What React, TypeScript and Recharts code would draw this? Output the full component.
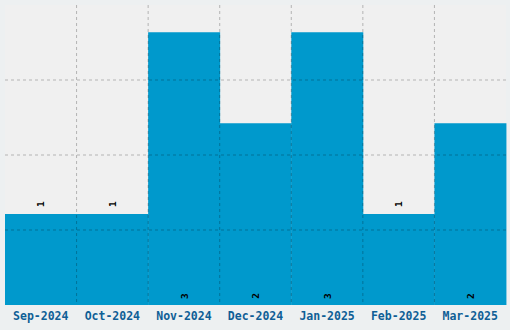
import { BarChart, Bar, XAxis, YAxis, CartesianGrid, LabelList } from 'recharts'

const months = ['Sep-2024', 'Oct-2024', 'Nov-2024', 'Dec-2024', 'Jan-2025', 'Feb-2025', 'Mar-2025']
const counts = [1, 1, 3, 2, 3, 1, 2]
const yTicks = [0, 0.825, 1.65, 2.475, 3.3]

const data = months.map((month, i) => ({ month, count: counts[i] }))

const FONT = '"DejaVu Sans Mono", monospace'
const MARGIN = { top: 5, right: 4, bottom: 0, left: 5 }
const H_DIVISIONS = 4

function ValueLabel(props: any) {
  const { x, y, width, height, value } = props
  const cx = x + width / 2
  // short bars get the number on top, the taller ones at the foot of the bar
  const cy = value >= 2 ? y + height - 9 : y - 10
  return (
    <text
      x={cx}
      y={cy}
      transform={`rotate(-90 ${cx} ${cy})`}
      textAnchor="middle"
      dominantBaseline="central"
      fontFamily={FONT}
      fontSize={9.5}
      fontWeight="bold"
      fill="#000"
    >
      {value}
    </text>
  )
}

// vertical lines between the month bands, horizontal ones in equal steps
function bandEdges({ offset }: any) {
  const step = offset.width / months.length
  return months.slice(1).map((_, i) => offset.left + step * (i + 1))
}

function rowEdges({ offset }: any) {
  const step = offset.height / H_DIVISIONS
  return Array.from({ length: H_DIVISIONS - 1 }, (_, i) => offset.top + step * (i + 1))
}

// the dashed grid sits on top of the bars, so it is drawn by a second, transparent chart
function GridOverlay() {
  return (
    <BarChart width={510} height={330} data={data} margin={MARGIN} barCategoryGap={0}>
      <XAxis dataKey="month" height={25} tick={false} axisLine={false} tickLine={false} />
      <YAxis domain={[0, 3.3]} ticks={yTicks} hide />
      <Bar dataKey="count" fill="none" isAnimationActive={false} />
      <CartesianGrid
        stroke="rgba(0,0,0,0.25)"
        strokeDasharray="3 3"
        verticalCoordinatesGenerator={bandEdges}
        horizontalCoordinatesGenerator={rowEdges}
      />
    </BarChart>
  )
}

export default function App() {
  return (
    <div style={{ position: 'fixed', left: 0, top: 0, width: 510, height: 330, background: '#edf0f1' }}>
      <BarChart width={510} height={330} data={data} margin={MARGIN} barCategoryGap={0}>
        <CartesianGrid fill="#f0f0f0" stroke="none" />
        <XAxis
          dataKey="month"
          height={25}
          axisLine={false}
          tickLine={false}
          tickSize={0}
          tickMargin={7}
          interval={0}
          tick={{ fill: '#0f5f96', fontFamily: FONT, fontSize: 11.5, fontWeight: 'bold' }}
        />
        <YAxis domain={[0, 3.3]} ticks={yTicks} hide />
        <Bar dataKey="count" fill="#0099cc" isAnimationActive={false}>
          <LabelList dataKey="count" content={ValueLabel} />
        </Bar>
      </BarChart>
      <div style={{ position: 'absolute', left: 0, top: 0, pointerEvents: 'none' }}>
        <GridOverlay />
      </div>
    </div>
  )
}
